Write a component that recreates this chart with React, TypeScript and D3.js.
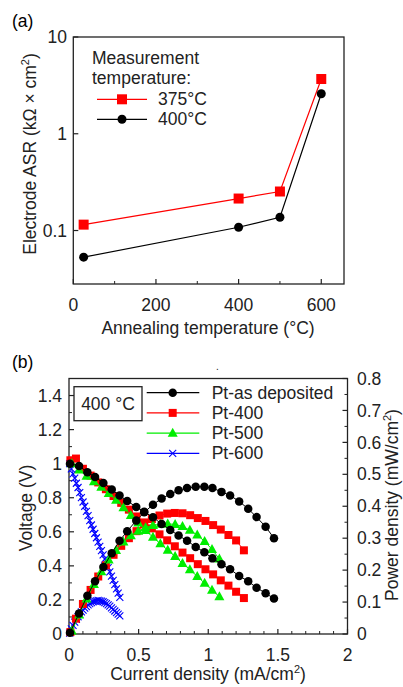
import * as d3 from "d3";

const FONT = "'Liberation Sans', Arial, Helvetica, sans-serif";
const FS = 17.5;

// (a) electrode ASR vs annealing temperature
const annealTemp = [25, 400, 500, 600];
const asr375 = [0.115, 0.214, 0.253, 3.68];
const asr400 = [0.053, 0.108, 0.137, 2.59];

// (b) I-V and power curves at 400 °C
const curAsDep = [0.007, 0.072, 0.132, 0.187, 0.247, 0.307, 0.363, 0.418, 0.483, 0.54, 0.603, 0.665, 0.727, 0.787, 0.848, 0.91, 0.972, 1.03, 1.095, 1.157, 1.222, 1.287, 1.347, 1.412, 1.472];
const voltAsDep = [1.0, 0.987, 0.95, 0.922, 0.887, 0.848, 0.813, 0.781, 0.746, 0.717, 0.685, 0.646, 0.611, 0.578, 0.548, 0.511, 0.48, 0.444, 0.409, 0.38, 0.341, 0.309, 0.272, 0.239, 0.208];
const powAsDep = [0.004, 0.064, 0.12, 0.165, 0.21, 0.253, 0.292, 0.322, 0.355, 0.381, 0.405, 0.424, 0.438, 0.45, 0.457, 0.461, 0.461, 0.457, 0.445, 0.434, 0.415, 0.392, 0.366, 0.336, 0.3];

const cur400 = [0.01, 0.05, 0.1, 0.155, 0.21, 0.265, 0.32, 0.375, 0.43, 0.485, 0.54, 0.595, 0.65, 0.705, 0.76, 0.815, 0.87, 0.925, 0.98, 1.035, 1.09, 1.145, 1.2, 1.256];
const volt400 = [1.02, 1.03, 0.97, 0.93, 0.89, 0.85, 0.81, 0.77, 0.73, 0.69, 0.655, 0.62, 0.585, 0.55, 0.515, 0.478, 0.445, 0.41, 0.38, 0.35, 0.315, 0.284, 0.248, 0.211];
const pow400 = [0.006, 0.048, 0.094, 0.138, 0.18, 0.215, 0.248, 0.276, 0.3, 0.322, 0.343, 0.36, 0.371, 0.377, 0.379, 0.378, 0.372, 0.363, 0.354, 0.341, 0.327, 0.31, 0.293, 0.262];

const cur500 = [0.02, 0.073, 0.126, 0.179, 0.232, 0.285, 0.338, 0.391, 0.444, 0.497, 0.55, 0.603, 0.656, 0.709, 0.762, 0.815, 0.868, 0.921, 0.974, 1.027, 1.08];
const volt500 = [1.0, 0.963, 0.927, 0.895, 0.862, 0.826, 0.786, 0.742, 0.697, 0.652, 0.608, 0.568, 0.53, 0.492, 0.455, 0.415, 0.378, 0.338, 0.298, 0.258, 0.219];
const pow500 = [0.01, 0.06, 0.11, 0.155, 0.195, 0.232, 0.262, 0.288, 0.308, 0.322, 0.333, 0.34, 0.344, 0.345, 0.343, 0.337, 0.325, 0.31, 0.29, 0.265, 0.235];

const cur600 = [0.005, 0.017, 0.029, 0.041, 0.053, 0.065, 0.077, 0.089, 0.101, 0.113, 0.125, 0.137, 0.149, 0.161, 0.173, 0.185, 0.197, 0.209, 0.221, 0.233, 0.245, 0.257, 0.269, 0.281, 0.293, 0.305, 0.317, 0.329, 0.341, 0.353, 0.365];
const volt600 = [1.0, 0.97, 0.94, 0.915, 0.885, 0.86, 0.83, 0.8, 0.775, 0.75, 0.72, 0.695, 0.665, 0.64, 0.615, 0.59, 0.565, 0.54, 0.515, 0.49, 0.465, 0.44, 0.415, 0.39, 0.365, 0.34, 0.315, 0.29, 0.265, 0.24, 0.215];
const pow600 = [0.003, 0.016, 0.027, 0.037, 0.046, 0.054, 0.062, 0.069, 0.075, 0.081, 0.086, 0.091, 0.095, 0.098, 0.101, 0.103, 0.104, 0.105, 0.104, 0.103, 0.101, 0.098, 0.095, 0.091, 0.087, 0.082, 0.077, 0.072, 0.067, 0.062, 0.057];

const xTicksA = [0, 200, 400, 600];
const xMinorA = [100, 300, 500];
const yTicksA = [0.1, 1, 10];

const xTicksB = [0, 0.5, 1, 1.5, 2];
const yTicksV = [0, 0.2, 0.4, 0.6, 0.8, 1, 1.2, 1.4];
const yTicksP = [0, 0.1, 0.2, 0.3, 0.4, 0.5, 0.6, 0.7, 0.8];

type Shape = "circle" | "square" | "triangle" | "x";

function Marker({ shape, x, y, color, s }: { shape: Shape; x: number; y: number; color: string; s: number }) {
  if (shape === "circle") return <circle cx={x} cy={y} r={s / 2} fill={color} />;
  if (shape === "square") return <rect x={x - s / 2} y={y - s / 2} width={s} height={s} fill={color} />;
  if (shape === "triangle") {
    const h = s * 0.9;
    return <path d={`M${x},${y - h * 0.6}L${x + s / 2},${y + h * 0.4}L${x - s / 2},${y + h * 0.4}Z`} fill={color} />;
  }
  const r = s / 2;
  return <path d={`M${x - r},${y - r}L${x + r},${y + r}M${x - r},${y + r}L${x + r},${y - r}`} stroke={color} strokeWidth={1.1} fill="none" />;
}

function PanelA() {
  const L = 73.3, R = 344, T = 37, B = 284;
  const x = d3.scaleLinear().domain([0, 655]).range([L, R]);
  const y = d3.scaleLog().domain([0.028, 10]).range([B, T]);
  const line = d3.line<number>().x((_, i) => x(annealTemp[i])).y(d => y(d));

  const series = [
    { vals: asr375, color: "#ff0000", shape: "square" as Shape, size: 10 },
    { vals: asr400, color: "#000000", shape: "circle" as Shape, size: 9 },
  ];

  return (
    <g>
      <text x={12} y={27} fontSize={FS}>(a)</text>
      <rect x={L} y={T} width={R - L} height={B - T} fill="none" stroke="#222" strokeWidth={1.3} />
      {xTicksA.map(t => (
        <g key={t}>
          <line x1={x(t)} x2={x(t)} y1={B} y2={B - 5} stroke="#222" strokeWidth={1.2} />
          <text x={x(t)} y={311} fontSize={FS} textAnchor="middle" fill="#222">{t}</text>
        </g>
      ))}
      {xMinorA.map(t => (
        <line key={t} x1={x(t)} x2={x(t)} y1={B} y2={B - 3} stroke="#222" strokeWidth={1} />
      ))}
      {yTicksA.map(t => (
        <g key={t}>
          <line x1={L} x2={L + 5} y1={y(t)} y2={y(t)} stroke="#222" strokeWidth={1.2} />
          <text x={67} y={y(t)} dy="0.35em" fontSize={FS} textAnchor="end" fill="#222">{t}</text>
        </g>
      ))}
      <text x={208} y={334} fontSize={FS} textAnchor="middle" fill="#222">Annealing temperature (°C)</text>
      <text transform="translate(36,154) rotate(-90)" fontSize={FS} textAnchor="middle" fill="#222">
        Electrode ASR (kΩ × cm<tspan dy={-7} fontSize={11}>2</tspan><tspan dy={7}>)</tspan>
      </text>

      {series.map((s, k) => (
        <g key={k}>
          <path d={line(s.vals) || ""} fill="none" stroke={s.color} strokeWidth={1.2} />
          {s.vals.map((v, i) => (
            <Marker key={i} shape={s.shape} x={x(annealTemp[i])} y={y(v)} color={s.color} s={s.size} />
          ))}
        </g>
      ))}

      <text x={92} y={64} fontSize={FS} fill="#222">Measurement</text>
      <text x={92} y={84} fontSize={FS} fill="#222">temperature:</text>
      {series.map((s, k) => (
        <g key={k}>
          <line x1={97} x2={147} y1={99.3 + k * 20} y2={99.3 + k * 20} stroke={s.color} strokeWidth={1.2} />
          <Marker shape={s.shape} x={122} y={99.3 + k * 20} color={s.color} s={s.size} />
          <text x={158} y={99.3 + k * 20} dy="0.35em" fontSize={FS} fill="#222">{k === 0 ? "375°C" : "400°C"}</text>
        </g>
      ))}
    </g>
  );
}

function PanelB() {
  const L = 69, R = 347.5, T = 378.5, B = 634;
  const x = d3.scaleLinear().domain([0, 2]).range([L, R]);
  const yV = d3.scaleLinear().domain([0, 1.5]).range([B, T]);
  const yP = d3.scaleLinear().domain([0, 0.8]).range([B, T]);

  const series = [
    { name: "Pt-as deposited", cur: curAsDep, volt: voltAsDep, pow: powAsDep, color: "#000000", shape: "circle" as Shape, size: 8.5 },
    { name: "Pt-400", cur: cur400, volt: volt400, pow: pow400, color: "#ff0000", shape: "square" as Shape, size: 8 },
    { name: "Pt-500", cur: cur500, volt: volt500, pow: pow500, color: "#00ee00", shape: "triangle" as Shape, size: 10 },
    { name: "Pt-600", cur: cur600, volt: volt600, pow: pow600, color: "#0000ff", shape: "x" as Shape, size: 7 },
  ];
  const drawOrder = [3, 1, 2, 0];

  const xMinor = d3.range(0, 21).map(i => i / 10).filter(v => Math.abs(v * 2 - Math.round(v * 2)) > 1e-6);
  const vMinor = d3.range(1, 15, 2).map(i => i / 10);
  const pMinor = d3.range(1, 16, 2).map(i => i / 20);

  return (
    <g>
      <text x={12} y={368} fontSize={FS}>(b)</text>
      <text x={216} y={370} fontSize={10} fill="#222">.</text>
      <rect x={L} y={T} width={R - L} height={B - T} fill="none" stroke="#222" strokeWidth={1.3} />

      {xTicksB.map(t => (
        <g key={t}>
          <line x1={x(t)} x2={x(t)} y1={B} y2={B - 5} stroke="#222" strokeWidth={1.2} />
          <text x={x(t)} y={661} fontSize={FS} textAnchor="middle" fill="#222">{t}</text>
        </g>
      ))}
      {xMinor.map(t => (
        <line key={t} x1={x(t)} x2={x(t)} y1={B} y2={B - 3} stroke="#222" strokeWidth={1} />
      ))}
      {yTicksV.map(t => (
        <g key={t}>
          <line x1={L} x2={L + 5} y1={yV(t)} y2={yV(t)} stroke="#222" strokeWidth={1.2} />
          <text x={62} y={yV(t)} dy="0.35em" fontSize={FS} textAnchor="end" fill="#222">{String(t)}</text>
        </g>
      ))}
      {vMinor.map(t => (
        <line key={t} x1={L} x2={L + 3} y1={yV(t)} y2={yV(t)} stroke="#222" strokeWidth={1} />
      ))}
      {yTicksP.map(t => (
        <g key={t}>
          <line x1={R} x2={R - 5} y1={yP(t)} y2={yP(t)} stroke="#222" strokeWidth={1.2} />
          <text x={357} y={yP(t)} dy="0.35em" fontSize={FS} fill="#222">{String(t)}</text>
        </g>
      ))}
      {pMinor.map(t => (
        <line key={t} x1={R} x2={R - 3} y1={yP(t)} y2={yP(t)} stroke="#222" strokeWidth={1} />
      ))}

      <text x={208} y={680} fontSize={FS} textAnchor="middle" fill="#222">
        Current density (mA/cm<tspan dy={-7} fontSize={11}>2</tspan><tspan dy={7}>)</tspan>
      </text>
      <text transform="translate(32,508) rotate(-90)" fontSize={FS} textAnchor="middle" fill="#222">Voltage (V)</text>
      <text transform="translate(398,505) rotate(-90)" fontSize={FS} textAnchor="middle" fill="#222">
        Power density (mW/cm<tspan dy={-7} fontSize={11}>2</tspan><tspan dy={7}>)</tspan>
      </text>

      {drawOrder.map(k => {
        const s = series[k];
        const lv = d3.line<number>().x((_, i) => x(s.cur[i])).y(d => yV(d));
        const lp = d3.line<number>().x((_, i) => x(s.cur[i])).y(d => yP(d));
        return (
          <g key={k}>
            <path d={lv(s.volt) || ""} fill="none" stroke={s.color} strokeWidth={1} />
            <path d={lp(s.pow) || ""} fill="none" stroke={s.color} strokeWidth={1} />
            {s.volt.map((v, i) => (
              <Marker key={"v" + i} shape={s.shape} x={x(s.cur[i])} y={yV(v)} color={s.color} s={s.size} />
            ))}
            {s.pow.map((p, i) => (
              <Marker key={"p" + i} shape={s.shape} x={x(s.cur[i])} y={yP(p)} color={s.color} s={s.size} />
            ))}
          </g>
        );
      })}

      <rect x={74} y={386.7} width={68} height={34} fill="#fff" stroke="#222" strokeWidth={1.3} />
      <text x={108} y={404} dy="0.35em" fontSize={FS} textAnchor="middle" fill="#222">400 °C</text>

      {series.map((s, k) => {
        const ly = 392.7 + k * 20.2;
        return (
          <g key={k}>
            <line x1={146.7} x2={199.3} y1={ly} y2={ly} stroke={s.color} strokeWidth={1.2} />
            <Marker shape={s.shape} x={172.7} y={ly} color={s.color} s={s.size} />
            <text x={211.7} y={ly} dy="0.35em" fontSize={FS} fill="#222">{s.name}</text>
          </g>
        );
      })}
    </g>
  );
}

export default function App() {
  return (
    <svg width={403} height={687} fontFamily={FONT} style={{ position: "absolute", left: 0, top: 0, background: "#fff" }}>
      <PanelA />
      <PanelB />
    </svg>
  );
}
